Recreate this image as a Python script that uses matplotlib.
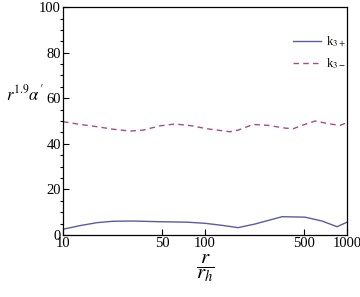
import matplotlib
matplotlib.use("Agg")
import matplotlib.pyplot as plt
from matplotlib.ticker import FixedLocator, FixedFormatter, MultipleLocator, NullLocator

plt.rcParams['font.family'] = ['Liberation Serif', 'DejaVu Serif']
plt.rcParams['mathtext.fontset'] = 'stix'

# k3+ (solid)
r_plus = [10, 13.2, 17.4, 22.5, 31.1, 48.2, 74.7, 100, 103, 132, 171, 225, 349, 506, 667, 851, 1000]
k_plus = [2.5, 4.1, 5.4, 6.0, 6.1, 5.8, 5.6, 5.1, 5.0, 4.2, 3.2, 4.8, 8.0, 7.8, 6.1, 3.6, 5.6]

# k3- (dashed)
r_minus = [10, 10.3, 13.2, 17.4, 22.5, 29.6, 36.6, 48.2, 61.5, 81.0, 103, 150, 171, 218,
           278, 366, 417, 482, 595, 759, 893, 1000]
k_minus = [49.7, 49.6, 48.5, 47.5, 46.4, 45.6, 46.0, 47.9, 48.7, 47.9, 46.6, 45.3, 46.0, 48.5,
           48.1, 46.9, 46.6, 48.1, 50.0, 48.7, 48.1, 49.3]

xticks = [10, 50, 100, 500, 1000]

fig = plt.figure(figsize=(3.6, 2.97), dpi=100)
ax = fig.add_axes([0.175, 0.209, 0.789, 0.767])

ax.plot(r_plus, k_plus, color='#5a5aa6', lw=1.0, label=r'k$_{3+}$')
ax.plot(r_minus, k_minus, color='#a84c80', lw=1.0, ls=(0, (4, 3)), label=r'k$_{3-}$')

ax.set_xscale('log')
ax.set_xlim(10, 1000)
ax.set_ylim(0, 100)
ax.xaxis.set_major_locator(FixedLocator(xticks))
ax.xaxis.set_major_formatter(FixedFormatter([str(t) for t in xticks]))
ax.xaxis.set_minor_locator(NullLocator())
ax.yaxis.set_major_locator(MultipleLocator(20))
ax.yaxis.set_minor_locator(MultipleLocator(5))
ax.tick_params(direction='in', labelsize=10.5, top=False, right=False, pad=1.5)
ax.tick_params(which='major', length=4, width=0.8)
ax.tick_params(which='minor', length=2.5, width=0.8)
for s in ax.spines.values():
    s.set_linewidth(0.9)

ax.set_xlabel(r'$\dfrac{r}{r_h}$', fontsize=15, labelpad=2)
ax.set_ylabel(r"$r^{1.9}\alpha'$", fontsize=12, rotation=0)
ax.yaxis.set_label_coords(-0.135, 0.575)

ax.legend(loc='upper right', frameon=False, fontsize=9, handlelength=2.2,
          handletextpad=0.4, bbox_to_anchor=(1.035, 0.93), labelspacing=0.6)

fig.savefig('out.png', dpi=100)
